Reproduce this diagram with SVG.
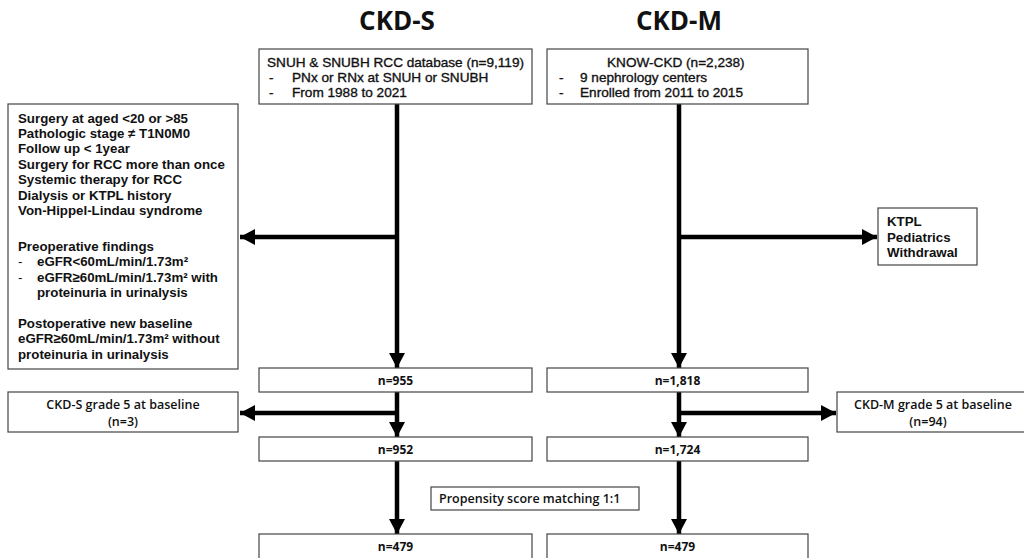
<svg xmlns="http://www.w3.org/2000/svg" width="1024" height="558" viewBox="0 0 1024 558">
<defs>
<style>
.box{fill:#fff;stroke:#444;stroke-width:1.2}
.t{font-family:"Open Sans","Noto Sans","DejaVu Sans",sans-serif;font-size:13px;fill:#111}
.l{font-family:"Liberation Sans",Arial,sans-serif;font-size:13.3px;font-weight:700;fill:#111}
.m{font-family:"Liberation Sans",Arial,sans-serif;font-size:13.6px;fill:#111;stroke:#111;stroke-width:0.35}
.b{font-weight:700}
.sb{font-weight:600}
.title{font-family:"Open Sans","Noto Sans",sans-serif;font-size:26px;font-weight:700;fill:#111;text-anchor:middle}
.c{text-anchor:middle}
.ln{stroke:#000;stroke-width:4.5;fill:none}
</style>
<marker id="ah" markerUnits="userSpaceOnUse" markerWidth="16" markerHeight="16" refX="15" refY="8" orient="auto">
<path d="M0,0 L15,8 L0,16 Z" fill="#000"/>
</marker>
</defs>
<rect width="1024" height="558" fill="#fff"/>
<text class="title" x="397" y="30">CKD-S</text>
<text class="title" x="679" y="30">CKD-M</text>

<g id="connectors">
<line class="ln" x1="397" y1="104" x2="397" y2="368" marker-end="url(#ah)"/>
<line class="ln" x1="397" y1="237" x2="240" y2="237" marker-end="url(#ah)"/>
<line class="ln" x1="679" y1="104" x2="679" y2="368" marker-end="url(#ah)"/>
<line class="ln" x1="679" y1="237" x2="877" y2="237" marker-end="url(#ah)"/>
<line class="ln" x1="397" y1="392" x2="397" y2="437" marker-end="url(#ah)"/>
<line class="ln" x1="399" y1="413" x2="240" y2="413" marker-end="url(#ah)"/>
<line class="ln" x1="679" y1="392" x2="679" y2="437" marker-end="url(#ah)"/>
<line class="ln" x1="677" y1="413" x2="836" y2="413" marker-end="url(#ah)"/>
<line class="ln" x1="397" y1="461" x2="397" y2="534" marker-end="url(#ah)"/>
<line class="ln" x1="679" y1="461" x2="679" y2="534" marker-end="url(#ah)"/>
</g>

<g id="snuh">
<rect class="box" x="259" y="49" width="273" height="55"/>
<text class="m" x="267" y="67">SNUH &amp; SNUBH RCC database (n=9,119)</text>
<text class="m" x="269" y="82">-</text><text class="m" x="292" y="82">PNx or RNx at SNUH or SNUBH</text>
<text class="m" x="269" y="97">-</text><text class="m" x="292" y="97">From 1988 to 2021</text>
</g>

<g id="knowckd">
<rect class="box" x="547" y="49" width="261" height="55"/>
<text class="m" x="607" y="67">KNOW-CKD (n=2,238)</text>
<text class="m" x="559" y="82">-</text><text class="m" x="580" y="82">9 nephrology centers</text>
<text class="m" x="559" y="97">-</text><text class="m" x="580" y="97">Enrolled from 2011 to 2015</text>
</g>

<g id="exclusion-s">
<rect class="box" x="8" y="104" width="230" height="265"/>
<text class="l" x="18" y="123">Surgery at aged &lt;20 or &gt;85</text>
<text class="l" x="18" y="138">Pathologic stage ≠ T1N0M0</text>
<text class="l" x="18" y="153">Follow up &lt; 1year</text>
<text class="l" x="18" y="169">Surgery for RCC more than once</text>
<text class="l" x="18" y="184">Systemic therapy for RCC</text>
<text class="l" x="18" y="200">Dialysis or KTPL history</text>
<text class="l" x="18" y="215">Von-Hippel-Lindau syndrome</text>
<text class="l" x="18" y="251">Preoperative findings</text>
<text class="l" x="18" y="266" style="font-weight:400">-</text><text class="l" x="37" y="266">eGFR&lt;60mL/min/1.73m²</text>
<text class="l" x="18" y="282" style="font-weight:400">-</text><text class="l" x="37" y="282">eGFR≥60mL/min/1.73m² with</text>
<text class="l" x="37" y="297">proteinuria in urinalysis</text>
<text class="l" x="18" y="328">Postoperative new baseline</text>
<text class="l" x="18" y="343">eGFR≥60mL/min/1.73m² without</text>
<text class="l" x="18" y="359">proteinuria in urinalysis</text>
</g>

<g id="exclusion-m">
<rect class="box" x="878" y="208" width="99" height="57"/>
<text class="l" x="887" y="226">KTPL</text>
<text class="l" x="887" y="242">Pediatrics</text>
<text class="l" x="887" y="257">Withdrawal</text>
</g>

<g id="n955">
<rect class="box" x="259" y="368" width="273" height="24"/>
<text class="t b c" x="395.5" y="385" style="font-size:12px">n=955</text>
</g>
<g id="n1818">
<rect class="box" x="547" y="368" width="261" height="24"/>
<text class="t b c" x="677.5" y="385" style="font-size:12px">n=1,818</text>
</g>

<g id="grade5-s">
<rect class="box" x="8" y="392" width="230" height="40"/>
<text class="t sb c" x="123" y="409" style="font-size:12.5px">CKD-S grade 5 at baseline</text>
<text class="t sb c" x="123" y="426" style="font-size:12.5px">(n=3)</text>
</g>
<g id="grade5-m">
<rect class="box" x="837" y="392" width="200" height="40"/>
<text class="t sb c" x="933" y="409" style="font-size:12.5px">CKD-M grade 5 at baseline</text>
<text class="t sb c" x="928" y="426" style="font-size:12.5px">(n=94)</text>
</g>

<g id="n952">
<rect class="box" x="259" y="437" width="273" height="24"/>
<text class="t b c" x="395.5" y="454" style="font-size:12px">n=952</text>
</g>
<g id="n1724">
<rect class="box" x="547" y="437" width="261" height="24"/>
<text class="t b c" x="677.5" y="454" style="font-size:12px">n=1,724</text>
</g>

<g id="psm">
<rect class="box" x="431" y="487" width="208" height="23"/>
<text class="t sb" x="439" y="503" style="font-size:12.5px">Propensity score matching 1:1</text>
</g>

<g id="n479-s">
<rect class="box" x="259" y="534" width="273" height="26"/>
<text class="t b c" x="395.5" y="551" style="font-size:12px">n=479</text>
</g>
<g id="n479-m">
<rect class="box" x="547" y="534" width="261" height="26"/>
<text class="t b c" x="677.5" y="551" style="font-size:12px">n=479</text>
</g>
</svg>
